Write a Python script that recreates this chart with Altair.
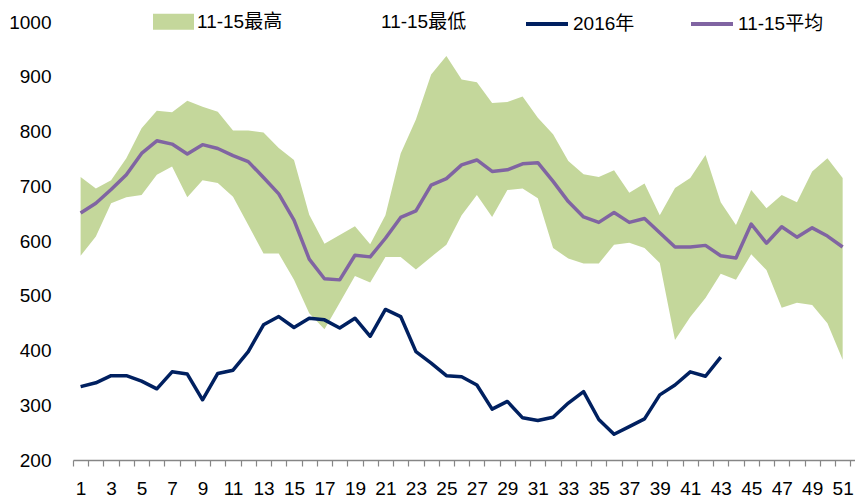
import altair as alt
import pandas as pd

FONT = "Liberation Sans Narrow, Arial Narrow, Liberation Sans, Noto Sans CJK SC, sans-serif"

weeks = list(range(1, 52))

max_vals = [717, 696, 711, 751, 806, 838, 835, 856, 845, 836,
            802, 802, 798, 770, 748, 648, 595, 611, 627, 594,
            647, 760, 822, 904, 938, 895, 890, 852, 854, 864,
            825, 795, 746, 722, 717, 729, 688, 705, 647, 697,
            715, 757, 671, 629, 693, 660, 684, 671, 727, 751, 715]

min_vals = [573, 608, 669, 680, 684, 721, 736, 680, 711, 706,
            681, 629, 577, 577, 529, 468, 439, 487, 536, 524,
            571, 571, 548, 571, 593, 647, 684, 644, 693, 696,
            678, 587, 568, 559, 559, 593, 597, 587, 560, 419,
            461, 496, 540, 529, 576, 547, 478, 487, 483, 450, 383]

avg_vals = [651, 669, 694, 721, 760, 783, 777, 759, 776, 769,
            756, 745, 716, 686, 638, 567, 531, 529, 574, 571,
            605, 643, 655, 702, 714, 739, 748, 727, 730, 741,
            743, 709, 672, 644, 634, 652, 634, 641, 615, 589,
            589, 592, 573, 569, 631, 596, 626, 607, 624, 609, 589]

vals_2016 = [334, 341, 354, 354, 344, 330, 361, 357, 310, 358,
             364, 398, 447, 462, 442, 459, 456, 441, 459, 426,
             475, 462, 398, 377, 354, 352, 337, 293, 307, 277,
             272, 278, 304, 325, 274, 247, 261, 275, 319, 337,
             361, 353, 388]

band_names = ["11-15最高", "11-15最低"]
band_colors = ["#C4D79B", "#FFFFFF"]
line_names = ["2016年", "11-15平均"]
line_colors = ["#002060", "#8064A2"]

y_ticks = [200, 300, 400, 500, 600, 700, 800, 900, 1000]
x_tick_values = [k / 2 for k in range(1, 104)]

band_df = pd.DataFrame({"week": weeks, "hi": max_vals, "lo": min_vals,
                        "series": band_names[0]})
line_df = pd.DataFrame({
    "week": weeks[:len(vals_2016)] + weeks,
    "value": vals_2016 + avg_vals,
    "series": [line_names[0]] * len(vals_2016) + [line_names[1]] * len(avg_vals),
    "order": [0] * len(vals_2016) + [1] * len(avg_vals),
})

x_scale = alt.Scale(domain=[0.5, 51.81], nice=False, zero=False)
y_scale = alt.Scale(domain=[200, 1000], nice=False, zero=False)

x_axis = alt.Axis(
    title=None, values=x_tick_values, grid=False,
    labelExpr="datum.value % 2 == 1 ? format(datum.value, 'd') : ''",
    labelOverlap=False, labelFlush=False, labelBound=False,
    tickOpacity={"condition": {"test": "datum.value % 1 != 0", "value": 1}, "value": 0},
    tickSize=6, tickColor="#868686", tickWidth=1.2,
    domainColor="#868686", domainWidth=1.5,
    labelFontSize=19, labelFont=FONT, labelColor="#000000", labelPadding=13,
)
y_axis = alt.Axis(
    title=None, values=y_ticks, grid=False, domain=False, ticks=False,
    format="d",
    labelFontSize=19, labelFont=FONT, labelColor="#000000", labelPadding=22,
)

band = alt.Chart(band_df).mark_area(opacity=1).encode(
    x=alt.X("week:Q", scale=x_scale, axis=x_axis),
    y=alt.Y("hi:Q", scale=y_scale, axis=y_axis),
    y2="lo:Q",
    fill=alt.Fill("series:N",
                  scale=alt.Scale(domain=band_names, range=band_colors),
                  legend=alt.Legend(
                      title=None, orient="none", legendX=80, legendY=-21,
                      direction="horizontal", padding=0,
                      symbolType="M-1,-0.39L1,-0.39L1,0.39L-1,0.39Z",
                      symbolSize=1681, symbolStrokeWidth=0, symbolOpacity=1,
                      labelFontSize=19, labelFont=FONT, labelColor="#000000",
                      labelOffset=3, columnPadding=54, labelLimit=300)),
)

lines = alt.Chart(line_df).mark_line(strokeWidth=3.5, strokeJoin="round").encode(
    x=alt.X("week:Q", scale=x_scale, axis=x_axis),
    y=alt.Y("value:Q", scale=y_scale, axis=y_axis),
    stroke=alt.Stroke("series:N",
                      scale=alt.Scale(domain=line_names, range=line_colors),
                      legend=alt.Legend(
                          title=None, orient="none", legendX=451, legendY=-21,
                          direction="horizontal", padding=0,
                          symbolType="stroke", symbolSize=1764,
                          symbolStrokeWidth=4,
                          labelFontSize=19, labelFont=FONT, labelColor="#000000",
                          labelOffset=3, columnPadding=48, labelLimit=300)),
    detail="series:N",
    order="order:Q",
)

chart = alt.layer(band, lines).properties(
    width=782, height=438,
    autosize=alt.AutoSizeParams(type="none"),
    padding={"left": 65, "top": 14, "right": 0, "bottom": 40},
    background="#FFFFFF",
).configure_view(stroke=None)

chart.save("out.html", embed_options={"renderer": "svg", "actions": False})
